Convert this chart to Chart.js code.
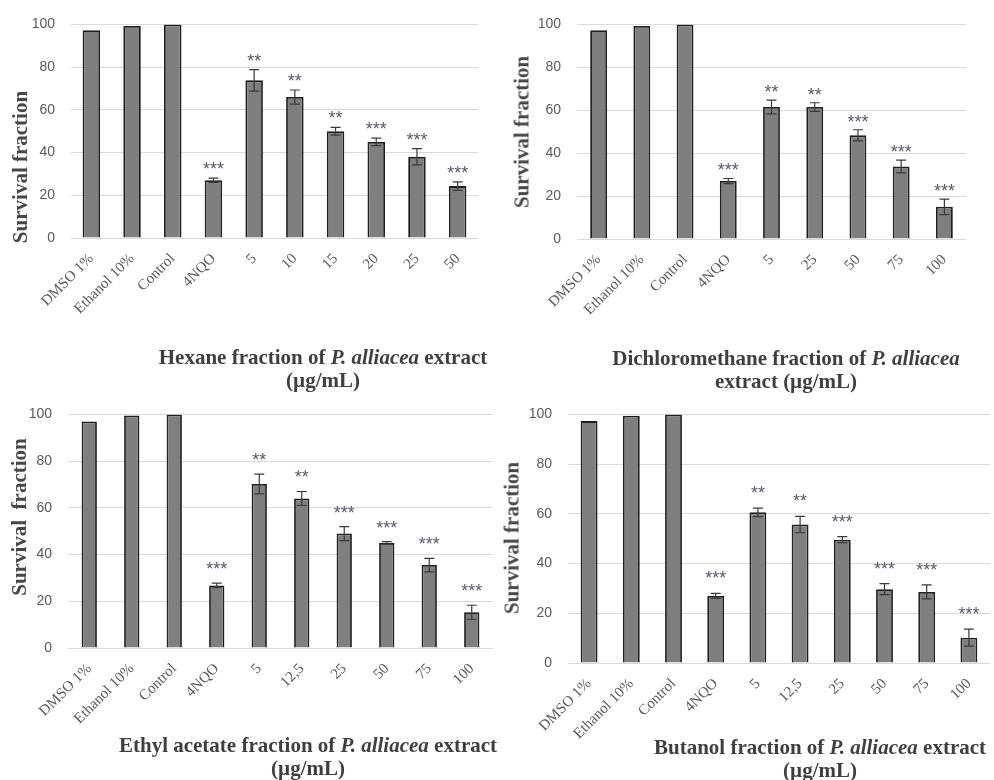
<!DOCTYPE html>
<html>
<head>
<meta charset="utf-8">
<script src="https://cdn.jsdelivr.net/npm/chart.js@4.4.1/dist/chart.umd.min.js"></script>
<style>
  html, body { margin: 0; padding: 0; background: #ffffff; }
  body { width: 994px; height: 780px; position: relative; overflow: hidden; }
  canvas.panel { position: absolute; }
  .ytitle {
    position: absolute;
    font: bold 21px "Liberation Serif", "Times New Roman", serif;
    color: #4a4646;
    white-space: pre;
    transform: translate(-50%, -50%) rotate(-90deg);
  }
  .caption {
    position: absolute;
    font: bold 21px/23px "Liberation Serif", "Times New Roman", serif;
    color: #3f3f3f;
    text-align: center;
    white-space: nowrap;
    transform: translateX(-50%);
  }
</style>
</head>
<body>

<canvas id="hexane" class="panel" width="497" height="330" style="left:0;top:0;width:497px;height:330px"></canvas>
<canvas id="dcm" class="panel" width="497" height="330" style="left:497px;top:0;width:497px;height:330px"></canvas>
<canvas id="ethyl" class="panel" width="497" height="390" style="left:0;top:390px;width:497px;height:390px"></canvas>
<canvas id="butanol" class="panel" width="497" height="390" style="left:497px;top:390px;width:497px;height:390px"></canvas>

<div class="ytitle" style="left:20px;top:167px">Survival fraction</div>
<div class="ytitle" style="left:522px;top:132px">Survival fraction</div>
<div class="ytitle" style="left:19px;top:517px">Survival  fraction</div>
<div class="ytitle" style="left:512px;top:538px">Survival fraction</div>

<div class="caption" style="left:323px;top:346px">Hexane fraction of <i>P. alliacea</i> extract<br>(µg/mL)</div>
<div class="caption" style="left:786px;top:347px">Dichloromethane fraction of <i>P. alliacea</i><br>extract (µg/mL)</div>
<div class="caption" style="left:308px;top:734px">Ethyl acetate fraction of <i>P. alliacea</i> extract<br>(µg/mL)</div>
<div class="caption" style="left:820px;top:736px">Butanol fraction of <i>P. alliacea</i> extract<br>(µg/mL)</div>

<script>
// ---- Hexane fraction ----
const hexaneLabels = ['DMSO 1%', 'Ethanol 10%', 'Control', '4NQO', '5', '10', '15', '20', '25', '50'];
const hexaneValues = [97.3, 99.3, 100, 27, 73.8, 66, 50, 45, 38, 24.3];
const hexaneErrors = [0, 0, 0, 1, 5, 3.3, 1.8, 1.8, 3.8, 2];
const hexaneStars  = ['', '', '', '***', '**', '**', '**', '***', '***', '***'];

// ---- Dichloromethane fraction ----
const dcmLabels = ['DMSO 1%', 'Ethanol 10%', 'Control', '4NQO', '5', '25', '50', '75', '100'];
const dcmValues = [97.3, 99.3, 100, 27, 61.5, 61.5, 48.3, 33.8, 15];
const dcmErrors = [0, 0, 0, 1.2, 3.2, 2, 2.6, 3, 3.6];
const dcmStars  = ['', '', '', '***', '**', '**', '***', '***', '***'];

// ---- Ethyl acetate fraction ----
const ethylLabels = ['DMSO 1%', 'Ethanol 10%', 'Control', '4NQO', '5', '12,5', '25', '50', '75', '100'];
const ethylValues = [97, 99.5, 100, 26.8, 70.2, 64, 49, 45, 35.5, 15.3];
const ethylErrors = [0, 0, 0, 1, 4.2, 3, 3, 0.5, 2.9, 3];
const ethylStars  = ['', '', '', '***', '**', '**', '***', '***', '***', '***'];

// ---- Butanol fraction ----
const butanolLabels = ['DMSO 1%', 'Ethanol 10%', 'Control', '4NQO', '5', '12,5', '25', '50', '75', '100'];
const butanolValues = [97.3, 99.5, 100, 27, 60.6, 55.7, 49.6, 29.7, 28.6, 10.2];
const butanolErrors = [0, 0, 0, 1, 1.7, 3.3, 1.2, 2.2, 2.8, 3.4];
const butanolStars  = ['', '', '', '***', '**', '**', '***', '***', '***', '***'];

const yTicks = [0, 20, 40, 60, 80, 100];

// Draws the ± error whiskers and the significance asterisks above each bar.
const errorStarsPlugin = {
  id: 'errorStars',
  afterDatasetsDraw(chart, args, opts) {
    const ctx = chart.ctx;
    const yScale = chart.scales.y;
    const meta = chart.getDatasetMeta(0);
    const values = chart.data.datasets[0].data;
    ctx.save();
    meta.data.forEach((bar, i) => {
      const v = values[i];
      const e = opts.errors[i] || 0;
      const x = bar.x;
      if (e > 0) {
        const yTop = yScale.getPixelForValue(v + e);
        const yBot = yScale.getPixelForValue(v - e);
        ctx.strokeStyle = '#3a3a3a';
        ctx.lineWidth = 1.2;
        ctx.beginPath();
        ctx.moveTo(x, yTop); ctx.lineTo(x, yBot);
        ctx.moveTo(x - 5, yTop); ctx.lineTo(x + 5, yTop);
        ctx.moveTo(x - 5, yBot); ctx.lineTo(x + 5, yBot);
        ctx.stroke();
      }
      const s = opts.stars[i];
      if (s) {
        const yStar = yScale.getPixelForValue(v + e) - opts.gap;
        ctx.fillStyle = '#555a72';
        ctx.font = '18px "Liberation Sans", Arial, sans-serif';
        ctx.textAlign = 'center';
        ctx.textBaseline = 'alphabetic';
        ctx.fillText(s, x, yStar + 10);
      }
    });
    ctx.restore();
  }
};

function makePanel(id, labels, values, errors, stars, lay) {
  return new Chart(document.getElementById(id), {
    type: 'bar',
    data: {
      labels: labels,
      datasets: [{
        data: values,
        backgroundColor: '#7f7f7f',
        borderColor: '#1f1f1f',
        borderWidth: 1.8,
        categoryPercentage: 1,
        barPercentage: lay.barPct
      }]
    },
    options: {
      responsive: false,
      animation: false,
      events: [],
      layout: { padding: { top: lay.padTop, right: lay.padRight, left: 0, bottom: 0 } },
      plugins: {
        legend: { display: false },
        tooltip: { enabled: false },
        errorStars: { errors: errors, stars: stars, gap: lay.starGap }
      },
      scales: {
        x: {
          grid: { display: false },
          border: { display: false },
          ticks: {
            autoSkip: false,
            maxRotation: 45,
            minRotation: 45,
            padding: lay.xPad,
            color: '#595959',
            font: { family: '"Liberation Serif", serif', size: 15 }
          },
          afterFit(scale) { scale.height = lay.xHeight; }
        },
        y: {
          min: 0,
          max: 100,
          afterBuildTicks(scale) { scale.ticks = yTicks.map(v => ({ value: v })); },
          grid: { color: '#d9d9d9', lineWidth: 1, drawTicks: false },
          border: { display: false },
          ticks: {
            padding: 16,
            color: '#595959',
            font: { family: '"Liberation Sans", Arial, sans-serif', size: 14 }
          },
          afterFit(scale) { scale.width = lay.yWidth; }
        }
      }
    },
    plugins: [errorStarsPlugin]
  });
}

makePanel('hexane', hexaneLabels, hexaneValues, hexaneErrors, hexaneStars,
  { padTop: 21, padRight: 19, yWidth: 71, xHeight: 92, barPct: 0.43, starGap: 13, xPad: 4 });
makePanel('dcm', dcmLabels, dcmValues, dcmErrors, dcmStars,
  { padTop: 24, padRight: 28, yWidth: 80, xHeight: 91, barPct: 0.39, starGap: 12, xPad: 4 });
makePanel('ethyl', ethylLabels, ethylValues, ethylErrors, ethylStars,
  { padTop: 21, padRight: 4, yWidth: 68, xHeight: 132, barPct: 0.36, starGap: 18, xPad: 4 });
makePanel('butanol', butanolLabels, butanolValues, butanolErrors, butanolStars,
  { padTop: 23, padRight: 4, yWidth: 71, xHeight: 117, barPct: 0.40, starGap: 19, xPad: 4 });
</script>
</body>
</html>
